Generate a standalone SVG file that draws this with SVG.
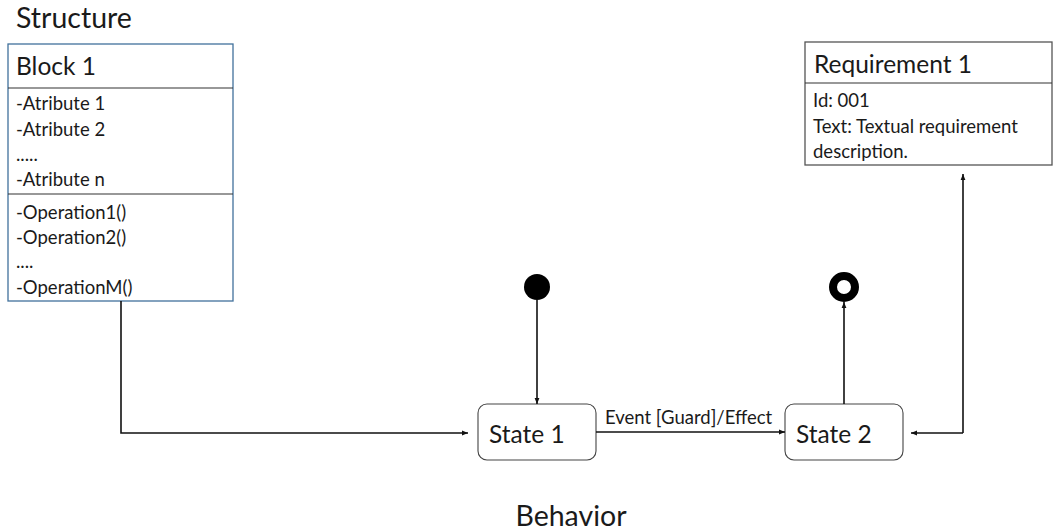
<svg xmlns="http://www.w3.org/2000/svg" width="1053" height="531" viewBox="0 0 1053 531">
<style>
text{font-family:Lato,"Open Sans",sans-serif;fill:#1a1a1a}
.ttl{font-size:28.5px}
.big{font-size:24.5px}
.sm{font-size:18.5px}
.box{fill:#fff;stroke:#41719c;stroke-width:1.3}
.rbox{fill:#fff;stroke:#555;stroke-width:1.3}
.div{stroke:#333;stroke-width:1.2}
.st{fill:#fff;stroke:#444;stroke-width:1.1}
.con{fill:none;stroke:#111;stroke-width:1.6}
</style>
<defs>
<marker id="ah" viewBox="0 0 10 10" refX="10" refY="5" markerWidth="6" markerHeight="6" orient="auto" markerUnits="userSpaceOnUse">
<path d="M0,1 L10,5 L0,9 z" fill="#111"/>
</marker>
</defs>
<text class="ttl" x="16" y="28">Structure</text>
<g id="block1">
<rect class="box" x="8" y="44" width="225" height="257"/>
<line class="div" x1="8" y1="88" x2="233" y2="88"/>
<line class="div" x1="8" y1="194" x2="233" y2="194"/>
<text class="big" x="16" y="75">Block 1</text>
<text class="sm" x="16" y="110">-Atribute 1</text>
<text class="sm" x="16" y="136">-Atribute 2</text>
<text class="sm" x="16" y="161">.....</text>
<text class="sm" x="16" y="186">-Atribute n</text>
<text class="sm" x="16" y="219">-Operation1()</text>
<text class="sm" x="16" y="244">-Operation2()</text>
<text class="sm" x="16" y="268">....</text>
<text class="sm" x="16" y="294">-OperationM()</text>
</g>
<g id="req1">
<rect class="rbox" x="805" y="42" width="247" height="123"/>
<line class="div" x1="805" y1="83" x2="1052" y2="83"/>
<text class="big" x="814" y="73">Requirement 1</text>
<text class="sm" x="813" y="107">Id: 001</text>
<text class="sm" x="813" y="133">Text: Textual requirement</text>
<text class="sm" x="813" y="158">description.</text>
</g>
<g id="initial"><circle cx="537" cy="287" r="13" fill="#000"/></g>
<g id="final"><circle cx="844" cy="287" r="11" fill="#fff" stroke="#000" stroke-width="8"/></g>
<g id="state1">
<rect class="st" x="478" y="404" width="118" height="56" rx="9"/>
<text class="big" x="489" y="443">State 1</text>
</g>
<g id="state2">
<rect class="st" x="785" y="404" width="118" height="56" rx="9"/>
<text class="big" x="796" y="443">State 2</text>
</g>
<text class="ttl" x="571" y="526" text-anchor="middle">Behavior</text>
<g id="connectors">
<polyline class="con" points="121,301 121,433 468,433" marker-end="url(#ah)"/>
<line class="con" x1="537" y1="300" x2="537" y2="404" marker-end="url(#ah)"/>
<line class="con" x1="596" y1="432" x2="785" y2="432" marker-end="url(#ah)"/>
<line class="con" x1="844" y1="404" x2="844" y2="302" marker-end="url(#ah)"/>
<polyline class="con" points="963,433 963,174" marker-end="url(#ah)"/>
<polyline class="con" points="963,433 911,433" marker-end="url(#ah)"/>
<text class="sm" x="605" y="424">Event [Guard]/Effect</text>
</g>
</svg>
